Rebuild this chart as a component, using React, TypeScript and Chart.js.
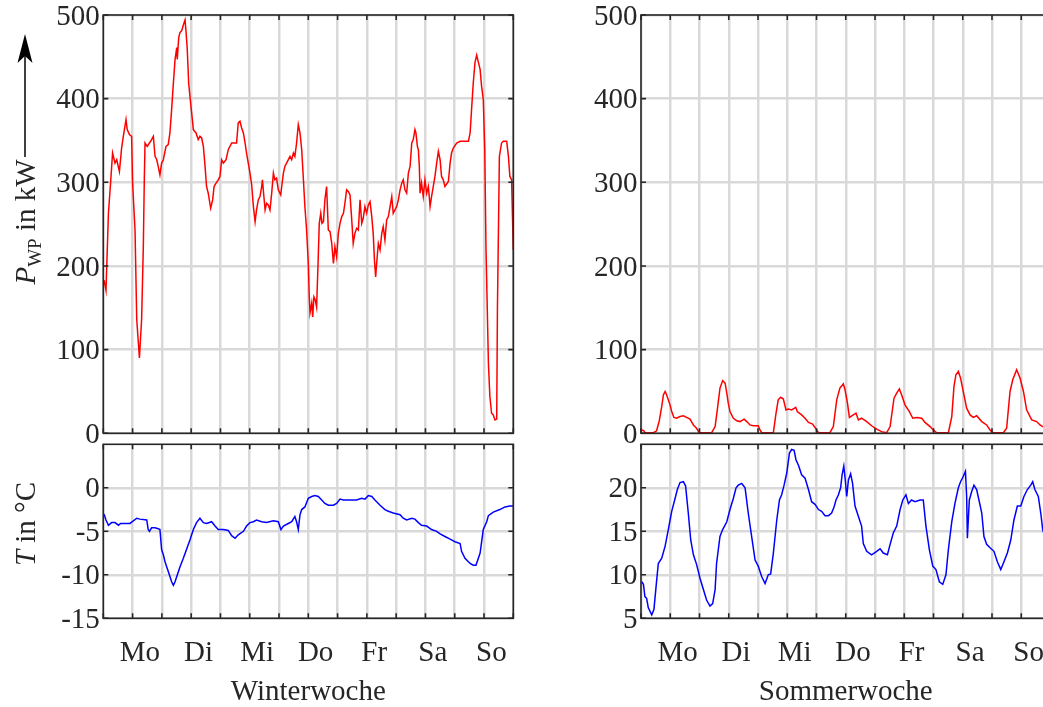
import React, { useEffect, useRef } from 'react';
import { Chart, registerables } from 'chart.js';

Chart.register(...registerables);

// ---------- style constants ----------
const FONT_FAMILY = "'Liberation Serif', 'Times New Roman', Times, serif";
const FONT_SIZE = 29;
const TEXT_COLOR = '#262626';
const AXIS_COLOR = '#262626';
const GRID_COLOR = '#d9d9d9';

// ---------- axes / labels ----------
const DAY_LABELS = ['Mo', 'Di', 'Mi', 'Do', 'Fr', 'Sa', 'So'];
const DAY_LABEL_HOURS = [15, 39, 63, 87, 111, 135, 159];
const GRID_HOURS = [0, 12, 24, 36, 48, 60, 72, 84, 96, 108, 120, 132, 144, 156, 168];
const POWER_TICKS = [0, 100, 200, 300, 400, 500];
const WINTER_T_TICKS = [-15, -10, -5, 0];
const SUMMER_T_TICKS = [5, 10, 15, 20];

// ---------- data: [hour of week, value] ----------
const winterPowerKW: [number, number][] = [
  [0.3, 183], [1.1, 171], [2.1, 263], [3.0, 300], [3.8, 335], [4.8, 323], [5.5, 327], [6.6, 313], [7.5, 341], [8.2, 355],
  [9.3, 375], [9.8, 363], [10.7, 357], [11.6, 355], [12.0, 299], [13.0, 243], [13.7, 136], [14.8, 90], [15.7, 136], [16.4, 223],
  [16.8, 303], [17.1, 347], [18.0, 343], [18.9, 347], [19.8, 351], [20.5, 355], [21.2, 331], [21.9, 327], [22.5, 319], [23.2, 309],
  [23.9, 323], [24.6, 327], [25.7, 343], [26.6, 345], [27.3, 359], [28.0, 387], [28.7, 418], [29.4, 447], [30.1, 461], [30.3, 447],
  [30.9, 473], [31.4, 479], [32.1, 481], [32.8, 488], [33.5, 494], [33.9, 480], [34.4, 459], [35.0, 418], [35.5, 403], [36.2, 383],
  [36.9, 363], [38.0, 359], [38.9, 351], [39.6, 355], [40.3, 353], [41.0, 343], [41.7, 319], [42.3, 295], [43.0, 287], [44.0, 269],
  [44.8, 279], [45.4, 295], [46.2, 299], [47.1, 303], [47.8, 307], [48.5, 327], [49.2, 323], [50.3, 327], [51.2, 339], [52.6, 347],
  [54.6, 347], [55.3, 371], [56.0, 373], [56.7, 365], [57.4, 359], [58.1, 347], [58.7, 335], [59.4, 323], [60.1, 311], [60.8, 297],
  [61.5, 271], [62.2, 253], [62.8, 267], [63.5, 279], [64.2, 283], [64.9, 295], [65.2, 303], [65.8, 283], [66.3, 267], [66.9, 275],
  [67.6, 273], [68.3, 267], [69.0, 287], [69.7, 311], [70.3, 303], [71.0, 305], [71.7, 291], [72.7, 285], [73.1, 295], [73.8, 311],
  [74.4, 319], [75.1, 323], [76.5, 331], [77.2, 327], [77.9, 335], [78.5, 331], [79.2, 347], [79.9, 369], [80.6, 359], [81.3, 339],
  [82.0, 303], [82.6, 271], [83.3, 243], [84.0, 203], [84.4, 163], [84.7, 144], [85.4, 156], [85.8, 139], [86.3, 163], [86.9, 159],
  [87.4, 151], [88.0, 203], [88.5, 251], [89.1, 263], [89.6, 251], [90.2, 253], [90.8, 279], [91.5, 295], [92.2, 243], [92.9, 241],
  [93.6, 227], [94.3, 203], [94.9, 223], [95.6, 211], [96.3, 239], [97.0, 251], [97.7, 259], [98.4, 263], [99.0, 275], [99.7, 291],
  [100.4, 289], [101.1, 285], [101.8, 255], [102.4, 227], [103.1, 239], [103.8, 245], [104.5, 243], [105.2, 279], [105.9, 251], [106.5, 257],
  [107.2, 271], [107.9, 263], [108.6, 273], [109.3, 277], [110.0, 259], [110.6, 239], [111.1, 207], [111.6, 187], [112.0, 203], [112.7, 227],
  [113.4, 219], [114.1, 239], [114.7, 247], [115.4, 231], [116.1, 255], [116.8, 259], [117.5, 271], [118.2, 283], [118.8, 263], [119.5, 267],
  [120.2, 271], [120.9, 279], [121.6, 291], [122.3, 299], [122.9, 303], [123.6, 291], [124.3, 287], [125.0, 311], [125.7, 319], [126.4, 347],
  [127.0, 351], [127.7, 363], [128.1, 359], [128.7, 343], [129.1, 339], [129.5, 319], [129.8, 287], [130.4, 299], [131.1, 283], [131.8, 303],
  [132.5, 287], [133.2, 295], [133.9, 271], [134.5, 283], [135.2, 295], [135.9, 307], [136.6, 323], [137.3, 337], [138.0, 327], [138.6, 307],
  [139.3, 303], [140.0, 295], [141.4, 301], [142.1, 323], [142.7, 335], [143.4, 341], [144.8, 347], [146.2, 349], [149.6, 349], [150.3, 359],
  [150.9, 387], [151.6, 419], [152.3, 443], [153.0, 452], [153.4, 447], [154.4, 435], [155.0, 415], [155.7, 399], [156.3, 339], [156.8, 223],
  [157.8, 84], [158.4, 44], [159.1, 24], [159.8, 22], [160.5, 16], [161.2, 17], [161.5, 150], [162.3, 331], [163.2, 347], [163.9, 349],
  [165.3, 349], [166.0, 331], [166.6, 307], [167.3, 303], [168.0, 219],
];

const winterTempC: [number, number][] = [
  [0.3, -3.0], [1.1, -3.7], [2.1, -4.3], [3.4, -4.0], [4.8, -4.0], [6.2, -4.3], [7.1, -4.1], [8.9, -4.1], [10.9, -4.1], [12.3, -3.8],
  [13.7, -3.5], [15.0, -3.6], [17.8, -3.7], [18.4, -4.8], [18.9, -5.0], [19.8, -4.6], [21.2, -4.6], [22.5, -4.7], [23.2, -4.8], [23.9, -7.1],
  [24.6, -7.7], [25.3, -8.5], [26.0, -9.1], [26.6, -9.6], [27.3, -10.2], [28.0, -10.8], [28.7, -11.2], [29.4, -10.8], [30.1, -10.2], [31.4, -9.1],
  [32.8, -8.1], [34.2, -7.0], [35.5, -6.0], [36.9, -4.8], [38.2, -4.0], [39.6, -3.5], [41.0, -4.0], [42.3, -4.1], [44.4, -3.9], [45.8, -4.4],
  [47.1, -4.8], [49.2, -4.8], [51.2, -4.9], [52.6, -5.5], [54.0, -5.8], [55.3, -5.4], [57.4, -5.0], [58.7, -4.4], [60.1, -4.0], [61.5, -3.9],
  [62.8, -3.7], [64.9, -3.9], [66.9, -4.0], [69.7, -3.8], [71.7, -3.9], [72.8, -4.8], [73.8, -4.4], [75.8, -4.1], [77.2, -3.9], [78.5, -3.3],
  [79.2, -3.9], [79.9, -4.8], [80.6, -3.1], [81.3, -2.5], [82.6, -2.2], [84.0, -1.2], [85.4, -1.0], [86.7, -0.9], [88.1, -1.0], [89.5, -1.4],
  [90.8, -1.8], [92.2, -2.0], [94.3, -2.0], [95.6, -1.8], [97.0, -1.3], [98.4, -1.4], [101.1, -1.4], [103.8, -1.4], [105.9, -1.2], [107.2, -1.3],
  [108.6, -0.9], [110.0, -1.0], [111.3, -1.4], [113.4, -2.0], [115.4, -2.5], [116.8, -2.7], [118.8, -2.9], [121.6, -3.1], [122.9, -3.5], [124.3, -3.7],
  [126.4, -3.5], [127.7, -3.6], [129.1, -4.0], [130.4, -4.3], [132.5, -4.4], [134.5, -4.8], [136.6, -5.0], [138.0, -5.3], [140.0, -5.6], [142.1, -5.9],
  [144.1, -6.2], [146.2, -6.4], [146.8, -7.3], [148.2, -8.1], [150.3, -8.7], [151.6, -8.9], [152.7, -8.9], [154.4, -7.5], [155.7, -4.8], [157.1, -3.9],
  [157.8, -3.2], [159.8, -2.8], [162.5, -2.5], [164.6, -2.2], [166.6, -2.1], [168.0, -2.1],
];

const summerPowerKW: [number, number][] = [
  [0.3, 4], [1.2, 3], [1.6, 0.7], [5.1, 0.7], [6.4, 3], [7.5, 15], [8.5, 32], [9.2, 46], [9.9, 50], [10.5, 46],
  [11.2, 40], [11.9, 34], [12.6, 26], [13.5, 19], [14.6, 18], [16.0, 20], [17.4, 21], [18.7, 19], [20.1, 17], [21.5, 10],
  [22.8, 6], [23.9, 0.7], [29.0, 0.7], [30.4, 8], [31.3, 28], [32.4, 54], [33.5, 63], [34.5, 60], [35.2, 48], [35.8, 36],
  [36.5, 26], [37.9, 18], [39.3, 15], [40.6, 14], [42.3, 17], [43.4, 14], [44.7, 10], [46.1, 9], [48.1, 9], [48.8, 4],
  [49.5, 0.7], [54.3, 0.7], [55.4, 24], [56.3, 40], [57.3, 43], [58.4, 41], [59.5, 28], [60.4, 29], [61.8, 28], [63.5, 31],
  [64.1, 26], [65.9, 22], [67.3, 18], [68.7, 13], [70.4, 11], [72.1, 4], [72.8, 0.7], [77.5, 0.7], [78.9, 8], [80.3, 40],
  [81.6, 54], [83.0, 59], [83.7, 52], [84.7, 36], [85.5, 19], [87.1, 22], [88.2, 24], [89.2, 16], [90.5, 18], [92.6, 14],
  [94.6, 9], [96.7, 5], [98.7, 2], [100.8, 0.7], [102.2, 8], [103.8, 42], [104.9, 48], [106.0, 53], [106.9, 46], [108.3, 34],
  [110.1, 26], [111.5, 18], [113.1, 19], [115.2, 18], [116.5, 13], [118.6, 8], [119.9, 4], [121.3, 0.7], [126.1, 0.7], [127.5, 20],
  [128.4, 56], [129.2, 70], [130.2, 74], [131.1, 66], [132.2, 50], [133.6, 30], [135.0, 22], [136.3, 19], [137.7, 21], [139.8, 14],
  [141.8, 10], [143.2, 4], [144.3, 0.7], [148.7, 0.7], [150.0, 6], [151.4, 50], [152.5, 64], [154.1, 76], [155.5, 66], [156.9, 50],
  [158.2, 28], [160.3, 16], [162.3, 14], [163.7, 10], [164.8, 8], [166.0, 7], [168.0, 6],
];

const summerTempC: [number, number][] = [
  [0.3, 9.2], [1.0, 8.9], [1.6, 7.5], [2.3, 7.3], [3.0, 6.2], [4.4, 5.4], [5.3, 6.0], [6.2, 8.7], [7.1, 11.3], [8.5, 11.9],
  [9.9, 13.3], [11.2, 15.2], [12.6, 17.3], [14.0, 18.8], [14.9, 19.8], [16.0, 20.6], [17.4, 20.7], [18.3, 20.2], [19.4, 17.1], [20.4, 14.0],
  [21.5, 12.3], [22.8, 11.2], [24.2, 9.6], [25.6, 8.3], [26.9, 7.1], [28.3, 6.4], [29.4, 6.7], [30.4, 8.3], [31.0, 11.3], [32.4, 14.4],
  [33.5, 15.2], [35.2, 16.1], [36.5, 17.5], [37.9, 18.8], [39.0, 20.0], [39.9, 20.3], [41.3, 20.5], [42.7, 20.0], [44.0, 17.1], [45.4, 14.4],
  [46.8, 11.7], [48.1, 11.0], [49.5, 9.8], [50.9, 9.0], [52.2, 10.0], [53.2, 10.1], [54.3, 12.5], [55.7, 16.3], [56.8, 18.6], [57.7, 19.2],
  [58.7, 20.3], [59.8, 21.7], [60.9, 24.0], [61.8, 24.4], [62.8, 24.3], [63.6, 23.2], [64.6, 22.6], [65.9, 21.5], [67.3, 21.1], [68.7, 19.8],
  [70.0, 18.4], [71.4, 18.1], [72.8, 17.5], [74.1, 17.3], [75.5, 16.8], [76.9, 16.8], [78.2, 17.1], [79.2, 17.8], [80.0, 18.6], [81.0, 19.2],
  [81.9, 20.0], [82.5, 21.5], [83.2, 22.5], [83.8, 20.9], [84.4, 19.0], [85.1, 20.9], [86.0, 21.6], [86.8, 20.5], [87.8, 17.9], [89.2, 16.7],
  [90.5, 15.6], [91.2, 13.6], [92.6, 12.7], [94.6, 12.3], [96.7, 12.7], [98.1, 13.0], [99.4, 12.5], [101.1, 12.3], [102.2, 13.5], [103.5, 14.8],
  [104.9, 15.6], [106.3, 17.5], [107.4, 18.6], [108.7, 19.2], [109.7, 18.2], [111.0, 18.6], [112.4, 18.4], [114.5, 18.6], [115.8, 18.6], [116.9, 15.6],
  [118.3, 12.9], [119.7, 11.0], [121.0, 10.6], [122.4, 9.2], [123.8, 8.9], [125.1, 10.0], [126.1, 12.9], [127.5, 16.1], [128.8, 18.2], [130.2, 20.0],
  [131.1, 20.7], [132.2, 21.3], [133.1, 21.9], [133.6, 19.0], [133.9, 14.2], [134.7, 18.6], [135.7, 19.6], [136.6, 20.3], [137.7, 19.8], [138.8, 18.4],
  [139.8, 17.1], [140.7, 14.4], [141.8, 13.5], [143.2, 13.1], [144.8, 12.7], [146.2, 11.5], [147.6, 10.6], [148.9, 11.5], [150.3, 12.5], [151.7, 14.0],
  [153.0, 16.3], [154.4, 17.9], [155.8, 17.9], [157.1, 19.0], [158.5, 19.8], [159.9, 20.3], [160.7, 20.7], [161.6, 19.8], [163.0, 19.0], [164.0, 17.1],
  [164.8, 15.2], [166.0, 14.0], [168.0, 13.0],
];

// ---------- helpers ----------
type Area = { l: number; t: number; r: number; b: number };
type TextPart = { text: string; font: string; dy: number };

function drawVerticalRichText(ctx: CanvasRenderingContext2D, parts: TextPart[], baselineX: number, centerY: number) {
  ctx.save();
  let total = 0;
  for (const p of parts) {
    ctx.font = p.font;
    total += ctx.measureText(p.text).width;
  }
  ctx.translate(baselineX, centerY);
  ctx.rotate(-Math.PI / 2);
  ctx.fillStyle = TEXT_COLOR;
  ctx.textAlign = 'left';
  ctx.textBaseline = 'alphabetic';
  let x = -total / 2;
  for (const p of parts) {
    ctx.font = p.font;
    ctx.fillText(p.text, x, p.dy);
    x += ctx.measureText(p.text).width;
  }
  ctx.restore();
}

type PanelProps = {
  area: Area;
  data: [number, number][];
  color: string;
  yMin: number;
  yMax: number;
  yTicks: number[];
  xTitle?: string;
  yTitle?: 'power' | 'temp';
};

function Panel({ area, data, color, yMin, yMax, yTicks, xTitle, yTitle }: PanelProps) {
  const ref = useRef<HTMLCanvasElement | null>(null);
  const showX = !!xTitle;
  const left = Math.floor(area.l - 110);
  const top = Math.floor(area.t - 40);
  const width = Math.ceil(area.r + 30) - left;
  const height = Math.ceil(area.b + (showX ? 100 : 30)) - top;
  const Y_W = 60;
  const X_H = showX ? 90 : 0;

  useEffect(() => {
    const canvas = ref.current;
    if (!canvas) return;
    const font = { family: FONT_FAMILY, size: FONT_SIZE, lineHeight: 1.2 };

    const boxPlugin = {
      id: 'axisBox',
      afterDraw(chart: any) {
        const { ctx, chartArea: a, scales } = chart;
        ctx.save();
        ctx.strokeStyle = AXIS_COLOR;
        ctx.lineWidth = 1.6;
        ctx.beginPath();
        for (const h of GRID_HOURS) {
          const px = scales.x.getPixelForValue(h);
          ctx.moveTo(px, a.top);
          ctx.lineTo(px, a.top + 5);
          ctx.moveTo(px, a.bottom);
          ctx.lineTo(px, a.bottom - 5);
        }
        for (const v of yTicks) {
          const py = scales.y.getPixelForValue(v);
          ctx.moveTo(a.left, py);
          ctx.lineTo(a.left + 5, py);
          ctx.moveTo(a.right, py);
          ctx.lineTo(a.right - 5, py);
        }
        ctx.stroke();
        ctx.strokeRect(a.left, a.top, a.right - a.left, a.bottom - a.top);
        ctx.restore();
      },
    };

    const titlePlugin = {
      id: 'yTitle',
      afterDraw(chart: any) {
        const ctx = chart.ctx as CanvasRenderingContext2D;
        const ox = -left;
        const oy = -top;
        if (yTitle === 'power') {
          ctx.save();
          ctx.strokeStyle = '#000';
          ctx.fillStyle = '#000';
          ctx.lineWidth = 1.5;
          ctx.beginPath();
          ctx.moveTo(25 + ox, 157 + oy);
          ctx.lineTo(25 + ox, 55 + oy);
          ctx.stroke();
          ctx.beginPath();
          ctx.moveTo(25 + ox, 34 + oy);
          ctx.lineTo(17.5 + ox, 63 + oy);
          ctx.lineTo(25 + ox, 56 + oy);
          ctx.lineTo(32.5 + ox, 63 + oy);
          ctx.closePath();
          ctx.fill();
          ctx.restore();
          drawVerticalRichText(
            ctx,
            [
              { text: 'P', font: `italic ${FONT_SIZE}px ${FONT_FAMILY}`, dy: 0 },
              { text: 'WP', font: `${Math.round(FONT_SIZE * 0.66)}px ${FONT_FAMILY}`, dy: 6 },
              { text: ' in kW', font: `${FONT_SIZE}px ${FONT_FAMILY}`, dy: 0 },
            ],
            35 + ox,
            222 + oy,
          );
        } else if (yTitle === 'temp') {
          drawVerticalRichText(
            ctx,
            [
              { text: 'T', font: `italic ${FONT_SIZE}px ${FONT_FAMILY}`, dy: 0 },
              { text: ' in °C', font: `${FONT_SIZE}px ${FONT_FAMILY}`, dy: 0 },
            ],
            35 + ox,
            524 + oy,
          );
        }
      },
    };

    const chart = new Chart(canvas, {
      type: 'line',
      data: {
        datasets: [
          {
            data: data.map(([x, y]) => ({ x, y })),
            borderColor: color,
            borderWidth: 1.5,
            pointRadius: 0,
            tension: 0,
            fill: false,
          },
        ],
      },
      options: {
        animation: false,
        responsive: false,
        events: [],
        layout: {
          padding: {
            left: area.l - left - Y_W,
            top: area.t - top,
            right: left + width - area.r,
            bottom: top + height - area.b - X_H,
          },
        },
        plugins: {
          legend: { display: false },
          tooltip: { enabled: false },
        },
        scales: {
          x: {
            type: 'linear',
            min: 0,
            max: 168,
            afterBuildTicks: (s: any) => {
              const vals = [...GRID_HOURS, ...(showX ? DAY_LABEL_HOURS : [])].sort((a, b) => a - b);
              s.ticks = vals.map((v) => ({ value: v }));
            },
            afterFit: (s: any) => {
              s.height = X_H;
            },
            grid: {
              color: (c: any) => (c.tick && GRID_HOURS.includes(c.tick.value) ? GRID_COLOR : 'rgba(0,0,0,0)'),
              lineWidth: 2.5,
              drawTicks: false,
            },
            border: { display: false },
            ticks: {
              display: showX,
              autoSkip: false,
              maxRotation: 0,
              minRotation: 0,
              padding: 18,
              color: TEXT_COLOR,
              font,
              callback: (v: any) => {
                const i = DAY_LABEL_HOURS.indexOf(Number(v));
                return i >= 0 ? DAY_LABELS[i] : '';
              },
            },
            title: {
              display: showX,
              text: xTitle || '',
              color: TEXT_COLOR,
              font,
              padding: { top: 0, bottom: -1 },
            },
          },
          y: {
            type: 'linear',
            min: yMin,
            max: yMax,
            afterBuildTicks: (s: any) => {
              s.ticks = yTicks.map((v) => ({ value: v }));
            },
            afterFit: (s: any) => {
              s.width = Y_W;
            },
            grid: { color: GRID_COLOR, lineWidth: 2.5, drawTicks: false },
            border: { display: false },
            ticks: {
              padding: 3.5,
              labelOffset: 2,
              color: TEXT_COLOR,
              font,
              callback: (v: any) => String(v),
            },
          },
        },
      } as any,
      plugins: yTitle ? [boxPlugin, titlePlugin] : [boxPlugin],
    });
    return () => chart.destroy();
  }, []);

  return (
    <canvas
      ref={ref}
      width={width}
      height={height}
      style={{ position: 'absolute', left, top, width, height }}
    />
  );
}

const AREA_W_TOP: Area = { l: 103.3, t: 15, r: 513.3, b: 433.3 };
const AREA_W_BOT: Area = { l: 103.3, t: 444.3, r: 513.3, b: 618.3 };
const AREA_S_TOP: Area = { l: 641, t: 15, r: 1050.5, b: 433.3 };
const AREA_S_BOT: Area = { l: 641, t: 444.3, r: 1050.5, b: 618.3 };

export default function App() {
  return (
    <div
      style={{
        position: 'fixed',
        left: 0,
        top: 0,
        width: 1043,
        height: 707,
        overflow: 'hidden',
        background: '#ffffff',
      }}
    >
      <Panel area={AREA_W_TOP} data={winterPowerKW} color="#ff0000" yMin={0} yMax={500} yTicks={POWER_TICKS} yTitle="power" />
      <Panel area={AREA_W_BOT} data={winterTempC} color="#0000ff" yMin={-15} yMax={5} yTicks={WINTER_T_TICKS} yTitle="temp" xTitle="Winterwoche" />
      <Panel area={AREA_S_TOP} data={summerPowerKW} color="#ff0000" yMin={0} yMax={500} yTicks={POWER_TICKS} />
      <Panel area={AREA_S_BOT} data={summerTempC} color="#0000ff" yMin={5} yMax={25} yTicks={SUMMER_T_TICKS} xTitle="Sommerwoche" />
    </div>
  );
}
